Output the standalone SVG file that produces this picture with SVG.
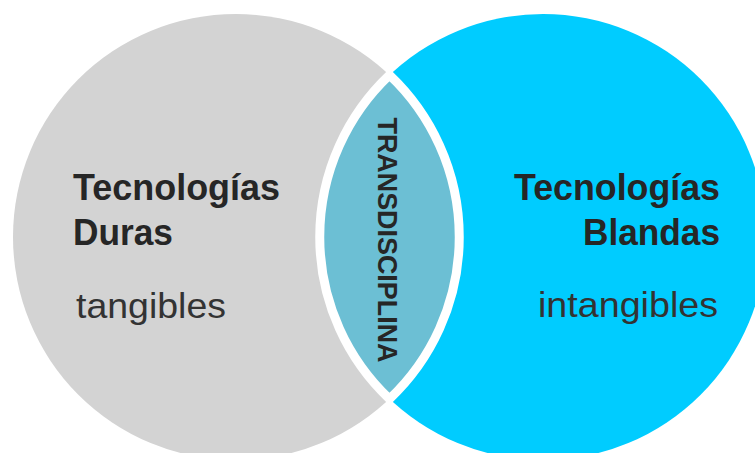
<svg xmlns="http://www.w3.org/2000/svg" width="755" height="453" viewBox="0 0 755 453">
  <style>
    .title { font-family: "Liberation Sans", Arial, sans-serif; font-weight: bold; font-size: 37px; fill: #262626; }
    .sub { font-family: "Liberation Sans", Arial, sans-serif; font-size: 35px; fill: #333333; }
    .lens-label { font-family: "Liberation Sans", Arial, sans-serif; font-weight: bold; font-size: 27px; fill: #262626; }
  </style>
  <rect width="755" height="453" fill="#ffffff"/>
  <g id="duras">
    <circle cx="236" cy="237" r="223" fill="#d3d3d3"/>
    <text class="title" x="73" y="200" textLength="207" lengthAdjust="spacingAndGlyphs">Tecnologías</text>
    <text class="title" x="73" y="245" textLength="100" lengthAdjust="spacingAndGlyphs">Duras</text>
    <text class="sub" x="76" y="318" textLength="150" lengthAdjust="spacingAndGlyphs">tangibles</text>
  </g>
  <g id="blandas">
    <circle cx="543" cy="237" r="223" fill="#00ccff"/>
    <text class="title" x="720" y="200" text-anchor="end" textLength="206" lengthAdjust="spacingAndGlyphs">Tecnologías</text>
    <text class="title" x="720" y="245" text-anchor="end" textLength="137" lengthAdjust="spacingAndGlyphs">Blandas</text>
    <text class="sub" x="718" y="317" text-anchor="end" textLength="180" lengthAdjust="spacingAndGlyphs">intangibles</text>
  </g>
  <g id="transdisciplina">
    <path d="M389.5,75 A223,223 0 0,0 389.5,399 A223,223 0 0,0 389.5,75 Z" fill="#6cbfd4" stroke="#ffffff" stroke-width="9" stroke-linejoin="miter"/>
    <text class="lens-label" transform="translate(378,240) rotate(90)" x="0" y="0" text-anchor="middle" textLength="245" lengthAdjust="spacingAndGlyphs">TRANSDISCIPLINA</text>
  </g>
</svg>
